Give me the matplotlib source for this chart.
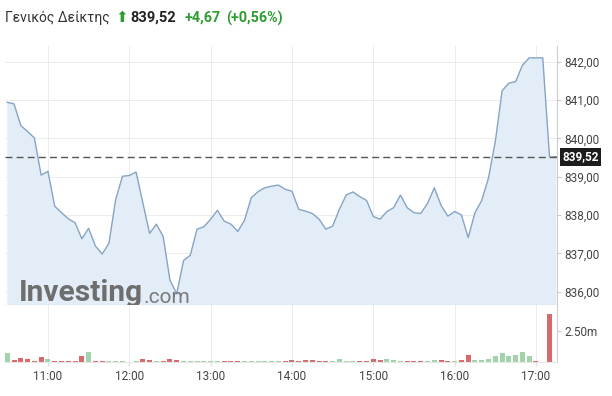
import matplotlib
matplotlib.use("Agg")
from matplotlib import pyplot as plt
import matplotlib.dates as mdates
import numpy as np
import pandas as pd

plt.rcParams['font.family'] = ['Roboto', 'DejaVu Sans']

# 5-minute closes of the index, 10:30 -> 17:15
times = pd.date_range("2021-01-04 10:30", "2021-01-04 17:15", freq="5min")

prices = [840.94, 840.90, 840.33, 840.18, 840.01, 839.04, 839.14, 838.23, 838.06, 837.90,
          837.80, 837.38, 837.65, 837.19, 836.98, 837.26, 838.41, 839.01, 839.03, 839.12,
          838.32, 837.52, 837.76, 837.44, 836.30, 835.94, 836.81, 836.95, 837.63, 837.69,
          837.89, 838.12, 837.84, 837.76, 837.57, 837.86, 838.45, 838.61, 838.71, 838.75,
          838.78, 838.67, 838.62, 838.15, 838.10, 838.04, 837.89, 837.63, 837.71, 838.15,
          838.52, 838.60, 838.48, 838.38, 837.96, 837.89, 838.09, 838.19, 838.52, 838.19,
          838.06, 838.04, 838.30, 838.71, 838.25, 837.97, 838.09, 838.00, 837.41, 838.06,
          838.38, 838.97, 839.92, 841.24, 841.44, 841.48, 841.91, 842.10, 842.10, 842.10,
          839.51, 839.52]

# volume in millions
volumes = [0.70, 0.16, 0.30, 0.22, 0.08, 0.38, 0.22, 0.11, 0.11, 0.11,
           0.06, 0.48, 0.78, 0.07, 0.07, 0.08, 0.05, 0.05, 0.04, 0.10,
           0.22, 0.13, 0.05, 0.05, 0.22, 0.13, 0.10, 0.05, 0.06, 0.05,
           0.05, 0.06, 0.05, 0.05, 0.08, 0.06, 0.05, 0.10, 0.12, 0.12,
           0.10, 0.05, 0.13, 0.06, 0.16, 0.16, 0.08, 0.06, 0.05, 0.24,
           0.12, 0.05, 0.05, 0.06, 0.24, 0.13, 0.21, 0.13, 0.05, 0.05,
           0.05, 0.05, 0.06, 0.13, 0.13, 0.05, 0.05, 0.13, 0.56, 0.13,
           0.13, 0.21, 0.46, 0.70, 0.46, 0.53, 0.78, 0.46, 0.05, 0.00,
           3.84, 0.00]

last_price = 839.52
price_ticks = [836, 837, 838, 839, 840, 841, 842]
title_name = "Γενικός Δείκτης"
title_last = "839,52"
title_change = "+4,67"
title_pct = "(+0,56%)"

GREEN = '#2e9c31'
GRID = '#ececec'
TXT = '#444444'

fig = plt.figure(figsize=(6.12, 3.96), dpi=100)
W, H = 612, 396
left, right = 5 / W, 557 / W
ax = fig.add_axes([left, 1 - 305 / H, right - left, (305 - 46) / H])
axv = fig.add_axes([left, 1 - 362 / H, right - left, (362 - 305) / H], sharex=ax)

x = mdates.date2num(times)
ax.fill_between(x, prices, 830, color='#e3edf7', lw=0, zorder=1)
ax.plot(x, prices, color='#86a4c4', lw=1, zorder=3)
ax.axhline(last_price, color='#555555', lw=1, dashes=(5, 3), zorder=4)

ax.set_ylim(835.65, 842.41)
x0 = mdates.date2num(pd.Timestamp("2021-01-04 10:28:20"))
x1 = mdates.date2num(pd.Timestamp("2021-01-04 17:15:30"))
ax.set_xlim(x0, x1)
ax.set_yticks(price_ticks)
ax.set_yticklabels([f"{v:.2f}".replace('.', ',') for v in price_ticks])
ax.yaxis.tick_right()
ax.tick_params(axis='y', length=3, color='#cccccc', labelcolor=TXT, labelsize=8.5, pad=2)
ax.tick_params(axis='x', bottom=False, labelbottom=False)
ax.grid(True, color=GRID, lw=0.7, zorder=0)
ax.set_axisbelow(True)
for s in ['top', 'left']:
    ax.spines[s].set_visible(False)
ax.spines['right'].set_color('#cccccc')
ax.spines['bottom'].set_color('#bbbbbb')

# last price tag
ax.annotate(title_last, xy=(1.0, last_price), xycoords=('axes fraction', 'data'),
            xytext=(4, 0), textcoords='offset points', ha='left', va='center',
            color='white', fontsize=8.5, fontweight='bold',
            bbox=dict(boxstyle='square,pad=0.2', fc='#1c1c1c', ec='none'),
            annotation_clip=False)

# watermark
wm = ax.text(0.025, 0.016, "Investing", transform=ax.transAxes, fontsize=21.5,
             fontweight='bold', color='#6e6e6e', va='baseline', zorder=5)
ax.annotate(".com", xy=(1.0, 0.0), xycoords=wm, xytext=(0.5, 0),
            textcoords='offset points', fontsize=15, color='#7a7a7a',
            va='bottom', zorder=5)

# volume panel
colors = ['#a2d3aa' if i == 0 or prices[i] > prices[i - 1] else '#d8696b'
          for i in range(len(prices))]
axv.bar(x, volumes, width=3.7 / 1440, color=colors, zorder=2)
axv.set_ylim(0, 4.6)
axv.set_yticks([2.5])
axv.set_yticklabels(["2.50m"])
axv.yaxis.tick_right()
axv.tick_params(axis='y', length=3, color='#cccccc', labelcolor=TXT, labelsize=8.5, pad=2)
axv.xaxis.set_major_locator(mdates.HourLocator())
axv.xaxis.set_major_formatter(mdates.DateFormatter('%H:%M'))
axv.tick_params(axis='x', length=3, color='#dddddd', labelcolor=TXT, labelsize=8.5, pad=3)
axv.grid(True, axis='x', color=GRID, lw=0.7, zorder=0)
ax.xaxis.set_major_locator(mdates.HourLocator())
axv.set_axisbelow(True)
for s in ['top', 'left']:
    axv.spines[s].set_visible(False)
axv.spines['right'].set_color('#cccccc')
axv.spines['bottom'].set_color('#e6e6e6')

# header line
ty = 1 - 18 / H
fig.text(5 / W, ty, title_name, fontsize=10, color='#333333', va='center')
fig.text(115 / W, ty, "⬆", fontsize=11, color=GREEN, va='center', family='DejaVu Sans')
fig.text(130 / W, ty, title_last, fontsize=10.5, fontweight='bold', color='#222222', va='center')
fig.text(185 / W, ty, title_change, fontsize=10.3, fontweight='bold', color=GREEN, va='center')
fig.text(226 / W, ty, title_pct, fontsize=10.3, fontweight='bold', color=GREEN, va='center')

fig.savefig("out.png", dpi=100)
